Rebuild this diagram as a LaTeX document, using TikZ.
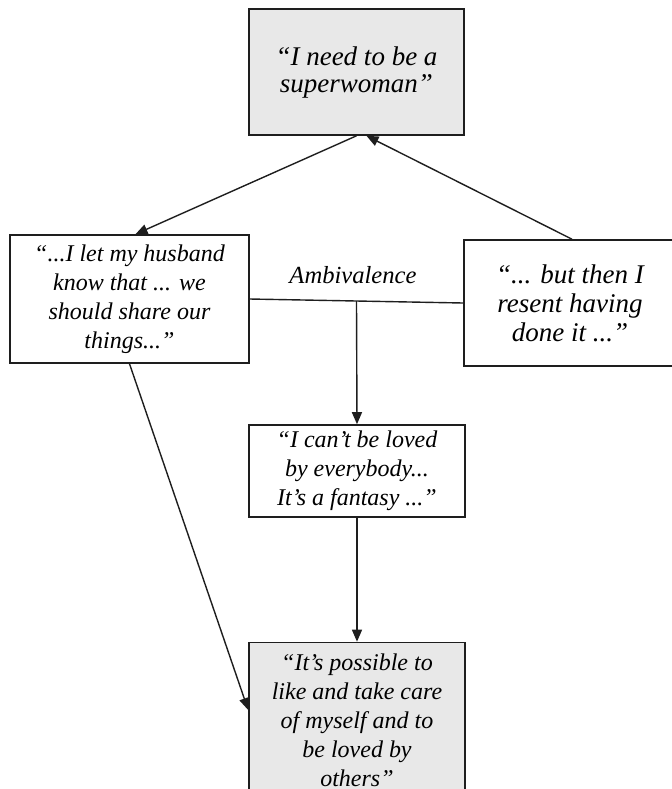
\documentclass[tikz,border=0pt]{standalone}
\usepackage{fontspec}
\setmainfont{Liberation Serif}
\usepackage{tikz}
\usetikzlibrary{
  arrows.meta,
  calc
}
\usepackage{xcolor}
\definecolor{boxgray}{RGB}{232, 232, 232}
\definecolor{lineclr}{RGB}{30, 30, 30}
\tikzset{
  % Matnli qutilar
  quotebox/.style  = {draw=lineclr, line width=0.8pt, align=center, inner sep=2pt,
                      font=\itshape\fontsize{12}{14.5}\selectfont},
  bigquote/.style  = {font=\itshape\fontsize{13.5}{14.5}\selectfont},
  shadebox/.style  = {quotebox, fill=boxgray},
  % Bog'lovchi chiziqlar
  link/.style      = {draw=lineclr, line width=0.7pt},
  arrowlink/.style = {link, -{Triangle[length=6pt, width=5pt]}},
  % Etiketlar
  lab/.style       = {font=\itshape\fontsize{12.3}{14.5}\selectfont, inner sep=1pt},
}

\begin{document}
\begin{tikzpicture}[x=0.5pt, y=-0.5pt]
  \useasboundingbox (0,0) rectangle (672,789);
  \clip (0,0) rectangle (672,789);
  % Qutilar
  \node[shadebox, bigquote, minimum width=107.5pt, minimum height=63pt] (need) at (356.5,72)
    {“I need to be a\\[-1pt]superwoman”};
  \node[quotebox, minimum width=119.5pt, minimum height=64pt] (husband) at (129.5,299)
    {“...I let my husband\\know that ... we\\should share our\\things...”};
  \node[quotebox, bigquote, minimum width=106pt, minimum height=63pt] (resent) at (570,303)
    {“... but then I\\resent having\\done it ...”};
  \node[quotebox, minimum width=108pt, minimum height=46pt] (loved) at (357,471)
    {“I can't be loved\\by everybody...\\It's a fantasy ...”};
  \node[shadebox, minimum width=108pt, minimum height=77.5pt] (possible) at (357,720)
    {“It's possible to\\like and take care\\of myself and to\\be loved by\\others”};
  % Etiket
  \node[lab] (amb) at (353,275) {Ambivalence};
  % Chiziqlar
  \draw[arrowlink] (need.south) -- ($(husband.north)+(6,0)$);
  \draw[arrowlink] ($(resent.north)+(2,0)$) -- ($(need.south)+(10,0)$);
  \draw[link] (husband.east) -- (resent.west);
  \coordinate (split) at ($(husband.east)!0.5!(resent.west)$);
  \draw[arrowlink] (split) -- (loved.north);
  \draw[arrowlink] (loved.south) -- (possible.north);
  \draw[arrowlink] (husband.south) -- ($(possible.west)+(0,-10)$);
\end{tikzpicture}
\end{document}
